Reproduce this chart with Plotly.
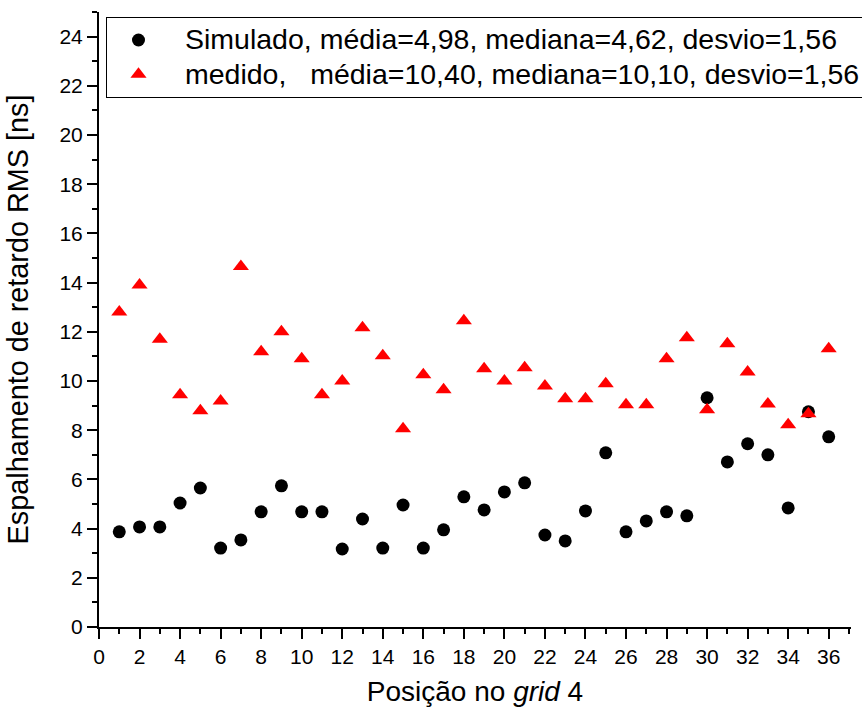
import plotly.graph_objects as go

posicao = list(range(1, 37))
simulado = [3.87, 4.07, 4.07, 5.04, 5.65, 3.21, 3.54, 4.68, 5.74, 4.68,
            4.68, 3.17, 4.39, 3.21, 4.96, 3.21, 3.95, 5.29, 4.76, 5.49,
            5.86, 3.74, 3.50, 4.72, 7.08, 3.87, 4.31, 4.68, 4.52, 9.32,
            6.71, 7.45, 7.00, 4.84, 8.75, 7.73]
medido = [12.8, 13.9, 11.7, 9.44, 8.79, 9.19, 14.65, 11.19, 12.0, 10.9,
          9.44, 10.0, 12.16, 11.03, 8.06, 10.25, 9.64, 12.45, 10.5, 10.0,
          10.54, 9.8, 9.28, 9.28, 9.89, 9.03, 9.03, 10.9, 11.76, 8.83,
          11.51, 10.37, 9.07, 8.22, 8.67, 11.31]

nome_sim = "Simulado, média=4,98, mediana=4,62, desvio=1,56"
nome_med = "medido,\u00a0\u00a0\u00a0média=10,40, mediana=10,10, desvio=1,56"

FONT = "Liberation Sans, Arial, sans-serif"


def big(txt):
    return '<span style="font-size:28.5px">' + txt + '</span>'


fig = go.Figure()
fig.add_trace(go.Scatter(x=posicao, y=simulado, mode="markers", name=big(nome_sim),
                         marker=dict(symbol="circle", size=13, color="black")))
fig.add_trace(go.Scatter(x=posicao, y=medido, mode="markers", name=big(nome_med),
                         marker=dict(symbol="triangle-up", size=14, color="#ff0000")))

axis_common = dict(showline=True, linewidth=2, linecolor="black", showgrid=False,
                   zeroline=False, ticks="outside", ticklen=10, tickwidth=2,
                   tickcolor="black", tickfont=dict(family=FONT, size=21, color="black"))

fig.update_layout(
    width=862, height=716,
    margin=dict(l=99, r=11, t=12, b=89, autoexpand=False),
    paper_bgcolor="white", plot_bgcolor="white",
    font=dict(family=FONT, color="black"),
    showlegend=True,
    legend=dict(x=0.0093, y=0.992, xanchor="left", yanchor="top",
                bordercolor="black", borderwidth=1, bgcolor="white",
                font=dict(family=FONT, size=24, color="black"),
                indentation=-15, itemwidth=83, tracegroupgap=0),
    xaxis=dict(range=[0, 37.1], tick0=0, dtick=2,
               minor=dict(dtick=1, ticks="outside", ticklen=5, tickwidth=2, tickcolor="black"),
               title=dict(text="Posição no <i>grid</i> 4", font=dict(family=FONT, size=28), standoff=14),
               **axis_common),
    yaxis=dict(range=[0, 25], tick0=0, dtick=2,
               minor=dict(dtick=1, ticks="outside", ticklen=5, tickwidth=2, tickcolor="black"),
               title=dict(text="Espalhamento de retardo RMS [ns]", font=dict(family=FONT, size=28.8), standoff=22),
               **axis_common),
)

fig.write_html("out.html")
